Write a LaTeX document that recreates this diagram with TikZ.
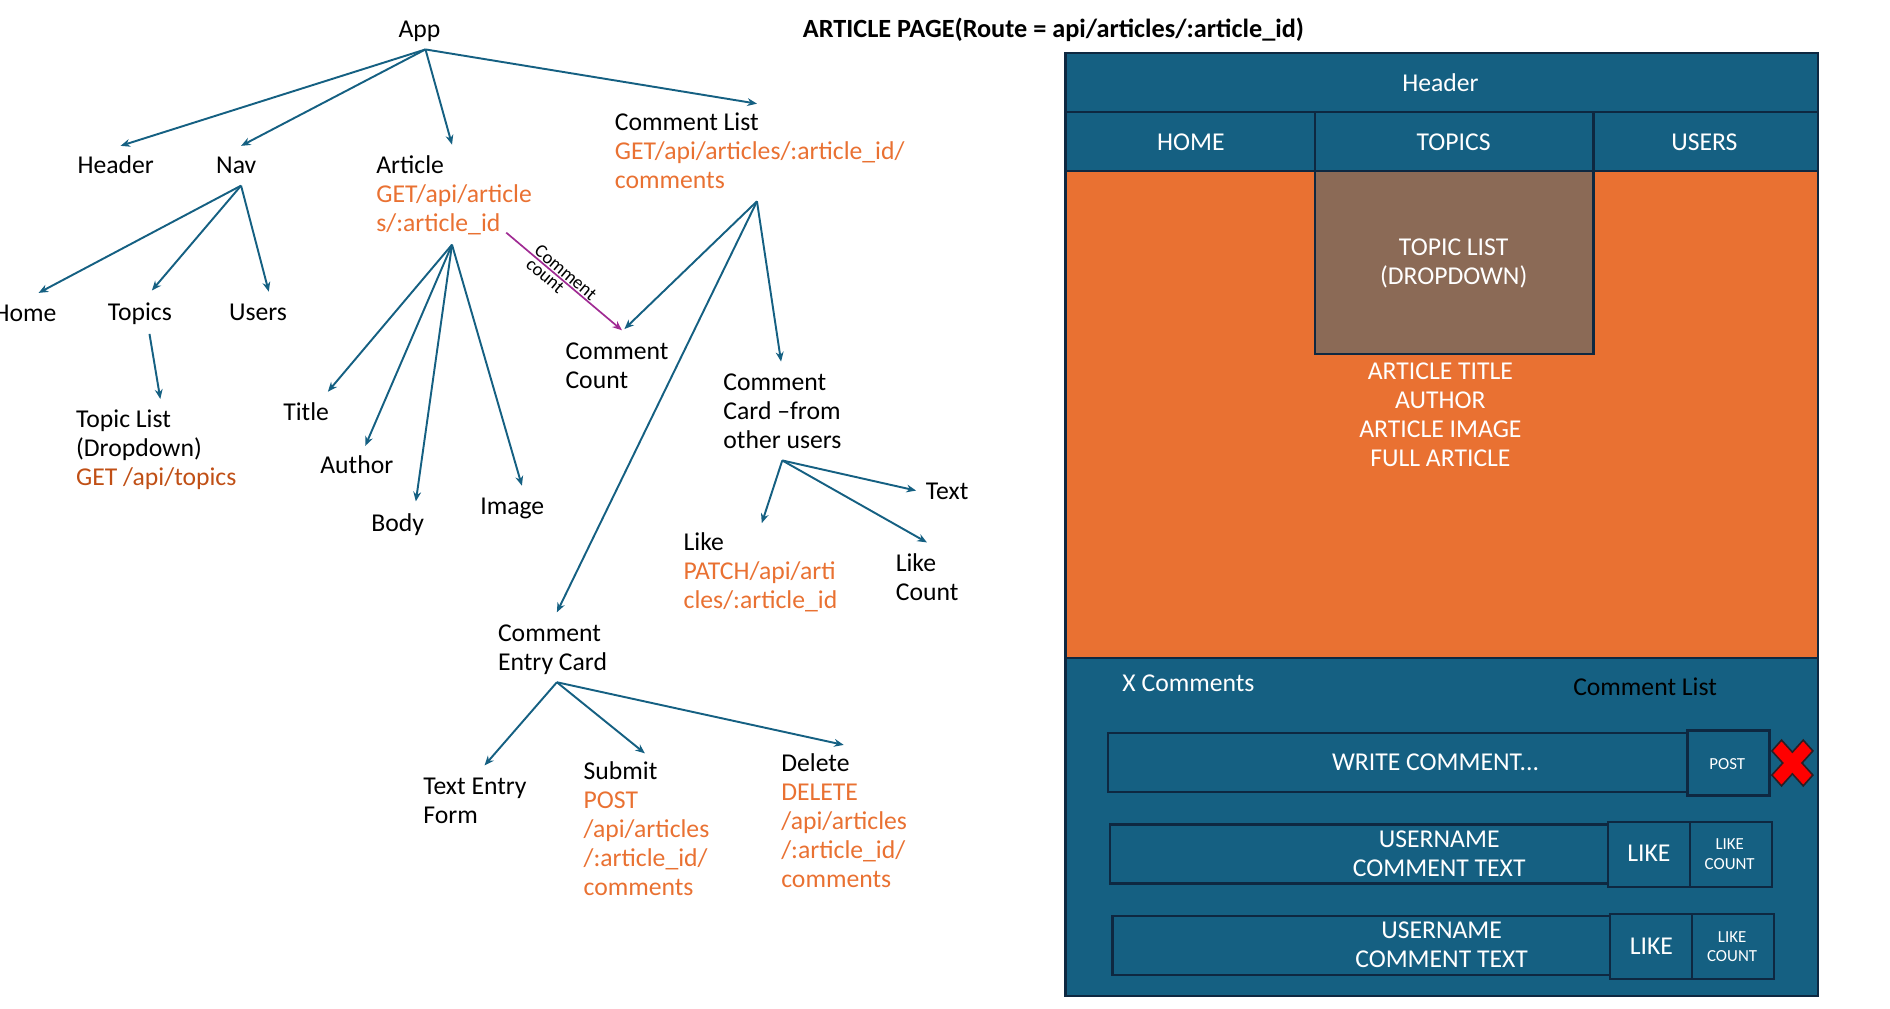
\documentclass[tikz,border=0pt]{standalone}
\usepackage{fontspec}
\setmainfont{Carlito}
\usetikzlibrary{arrows.meta}
\definecolor{acc}{HTML}{156082}
\definecolor{bdr}{HTML}{0E2841}
\definecolor{orng}{HTML}{E97132}
\definecolor{dorng}{HTML}{C04F15}
\definecolor{brwn}{HTML}{8B6A56}
\definecolor{purp}{HTML}{A02B93}
\definecolor{xred}{HTML}{FF0000}
\definecolor{xbdr}{HTML}{2A1E24}
\begin{document}
\begin{tikzpicture}[x=1pt,y=-1pt,
  lbl/.style={font=\fontsize{21.3}{24}\selectfont, inner sep=0pt, anchor=base west},
  clbl/.style={lbl, anchor=base},
  api/.style={lbl, text=orng},
  arr/.style={draw=acc, line width=1.6pt, -{Stealth[length=8pt,width=6.5pt]}},
  parr/.style={draw=purp, line width=1.4pt, -{Stealth[length=8pt,width=6.5pt]}},
  plbl/.style={font=\fontsize{15.5}{16}\selectfont, inner sep=0.8pt, sloped},
  ptxt/.style={font=\fontsize{21.3}{24}\selectfont, inner sep=0pt, anchor=base, text=white},
  stxt/.style={font=\fontsize{14}{16}\selectfont, inner sep=0pt, anchor=base, text=white},
  cell/.style={draw=bdr, line width=1.8pt, fill=acc},
]
\useasboundingbox (0,0) rectangle (1568,836.3);

% ---------------- title ----------------
\node[clbl, font=\fontsize{21.8}{24}\selectfont\bfseries] (title) at (874,31) {ARTICLE PAGE(Route = api/articles/:article\_id)};

% ---------------- tree labels ----------------
\node[clbl] (app) at (348,31) {App};
\node[clbl] (theader) at (96,144) {Header};
\node[clbl] (nav) at (196,144) {Nav};
\node[lbl] (art1) at (312,144) {Article};
\node[api] (art2) at (312,168) {GET/api/article};
\node[api] (art3) at (312,192) {s/:article\_id};
\node[lbl] (cl1) at (510,108) {Comment List};
\node[api] (cl2) at (510,132) {GET/api/articles/:article\_id/};
\node[api] (cl3) at (510,156) {comments};
\node[lbl, anchor=base east] (home) at (47,267) {Home};
\node[clbl] (topics) at (116,266) {Topics};
\node[clbl] (users) at (214,266) {Users};
\node[lbl] (tl1) at (63,355) {Topic List};
\node[lbl] (tl2) at (63,379) {(Dropdown)};
\node[lbl, text=dorng] (tl3) at (63,403) {GET /api/topics};
\node[clbl] (ttitle) at (254,349) {Title};
\node[clbl] (author) at (296,393) {Author};
\node[clbl] (body) at (330,441) {Body};
\node[clbl] (image) at (425,427) {Image};
\node[lbl] (cc1) at (469,298) {Comment};
\node[lbl] (cc2) at (469,322) {Count};
\node[lbl] (cd1) at (600,324) {Comment};
\node[lbl] (cd2) at (600,348) {Card –from};
\node[lbl] (cd3) at (600,372) {other users};
\node[lbl] (text) at (768,414) {Text};
\node[lbl] (like1) at (567,457) {Like};
\node[api] (like2) at (567,481) {PATCH/api/arti};
\node[api] (like3) at (567,505) {cles/:article\_id};
\node[lbl] (lc1) at (743,474) {Like};
\node[lbl] (lc2) at (743,498) {Count};
\node[lbl] (ec1) at (413,532) {Comment};
\node[lbl] (ec2) at (413,556) {Entry Card};
\node[lbl] (tef1) at (351,659) {Text Entry};
\node[lbl] (tef2) at (351,683) {Form};
\node[lbl] (sub1) at (484,647) {Submit};
\node[api] (sub2) at (484,671) {POST};
\node[api] (sub3) at (484,695) {/api/articles};
\node[api] (sub4) at (484,719) {/:article\_id/};
\node[api] (sub5) at (484,743) {comments};
\node[lbl] (del1) at (648,640) {Delete};
\node[api] (del2) at (648,664) {DELETE};
\node[api] (del3) at (648,688) {/api/articles};
\node[api] (del4) at (648,712) {/:article\_id/};
\node[api] (del5) at (648,736) {comments};

% ---------------- connector points ----------------
\coordinate (appB) at (353,41);
\coordinate (hdrT) at (100,121);
\coordinate (navT) at (200,121);
\coordinate (artT) at (375,120);
\coordinate (clT) at (628,86);
\coordinate (navB) at (200,154);
\coordinate (homeT) at (32,243);
\coordinate (topT) at (126,241);
\coordinate (usrT) at (223,242);
\coordinate (topB) at (124,277);
\coordinate (tlT) at (133,331);
\coordinate (artB) at (375,203);
\coordinate (titT) at (272,325);
\coordinate (autT) at (303,370);
\coordinate (bodT) at (345,416);
\coordinate (imgT) at (433,403);
\coordinate (artR) at (420,193);
\coordinate (ccT) at (516,274);
\coordinate (ccT2) at (518,273);
\coordinate (clB) at (628,167);
\coordinate (cdT) at (648,300);
\coordinate (ecT) at (462,508);
\coordinate (cdB) at (649,382);
\coordinate (likeT) at (632,434);
\coordinate (lcT) at (769,450);
\coordinate (textL) at (760,407);
\coordinate (ecB) at (462,566);
\coordinate (tefT) at (402,635);
\coordinate (subT) at (535,625);
\coordinate (delT) at (700,618);

% ---------------- connectors ----------------
\draw[arr] (appB) -- (hdrT);
\draw[arr] (appB) -- (navT);
\draw[arr] (appB) -- (artT);
\draw[arr] (appB) -- (clT);
\draw[arr] (navB) -- (homeT);
\draw[arr] (navB) -- (topT);
\draw[arr] (navB) -- (usrT);
\draw[arr] (topB) -- (tlT);
\draw[arr] (artB) -- (titT);
\draw[arr] (artB) -- (autT);
\draw[arr] (artB) -- (bodT);
\draw[arr] (artB) -- (imgT);
\draw[arr] (clB) -- (ccT2);
\draw[arr] (clB) -- (cdT);
\draw[arr] (clB) -- (ecT);
\draw[arr] (cdB) -- (likeT);
\draw[arr] (cdB) -- (lcT);
\draw[arr] (cdB) -- (textL);
\draw[arr] (ecB) -- (tefT);
\draw[arr] (ecB) -- (subT);
\draw[arr] (ecB) -- (delT);
\draw[parr] (artR) -- node[pos=0.47, plbl, above] (pl1) {Comment}
                      node[pos=0.38, plbl, below] (pl2) {count} (ccT);

% ---------------- page mock-up ----------------
\path[fill=acc] (884,44) rectangle (1508,826);
\path[fill=orng] (884,142) rectangle (1508,546);
\path[fill=brwn, draw=bdr, line width=1.8pt] (1091,142) rectangle (1322,294);
\draw[bdr, line width=1.8pt] (884,93) -- (1508,93);
\draw[bdr, line width=1.8pt] (884,142) -- (1508,142);
\draw[bdr, line width=1.8pt] (884,546) -- (1508,546);
\draw[bdr, line width=1.8pt] (1091,93) -- (1091,142);
\draw[bdr, line width=1.8pt] (1322,93) -- (1322,142);
\draw[bdr, line width=1.8pt] (884,44) rectangle (1508,826);

\node[ptxt] (pheader) at (1195,76) {Header};
\node[ptxt] (phome) at (988,125) {HOME};
\node[ptxt] (ptopics) at (1206,125) {TOPICS};
\node[ptxt] (pusers) at (1414,125) {USERS};
\node[ptxt] (ptl1) at (1206,212) {TOPIC LIST};
\node[ptxt] (ptl2) at (1206,236) {(DROPDOWN)};
\node[ptxt] (pa1) at (1195,315) {ARTICLE TITLE};
\node[ptxt] (pa2) at (1195,339) {AUTHOR};
\node[ptxt] (pa3) at (1195,363) {ARTICLE IMAGE};
\node[ptxt] (pa4) at (1195,387) {FULL ARTICLE};

\node[ptxt, anchor=base west] (pxc) at (931,574) {X Comments};
\node[ptxt, anchor=base west, text=black] (pcl) at (1305,577) {Comment List};

% write comment row
\path[cell] (919,608) rectangle (1400,657);
\path[cell] (1400,606) rectangle (1468,660);
\node[ptxt] (pwc) at (1191,639) {WRITE COMMENT...};
\node[stxt] (ppost) at (1433,638) {POST};

% red X
\path[fill=xred, draw=xbdr, line width=1.3pt, shift={(1487,633)}]
  (-17,-10) -- (-9,-19) -- (0,-9) -- (9,-19) -- (17,-10) -- (8,0) -- (17,10) -- (9,19) -- (0,9) -- (-9,19) -- (-17,10) -- (-8,0) -- cycle;

% comment row 1
\path[cell] (921,684) rectangle (1334,733);
\path[cell] (1334,682) rectangle (1402,736);
\path[cell] (1402,682) rectangle (1470,736);
\node[ptxt] (pu1) at (1194,703) {USERNAME};
\node[ptxt] (pt1) at (1194,727) {COMMENT TEXT};
\node[ptxt] (pl1b) at (1368,715) {LIKE};
\node[stxt] (plc1a) at (1435,705) {LIKE};
\node[stxt] (plc1b) at (1435,721) {COUNT};

% comment row 2
\path[cell] (923,760) rectangle (1336,809);
\path[cell] (1336,758) rectangle (1404,812);
\path[cell] (1404,758) rectangle (1472,812);
\node[ptxt] (pu2) at (1196,779) {USERNAME};
\node[ptxt] (pt2) at (1196,803) {COMMENT TEXT};
\node[ptxt] (pl2b) at (1370,792) {LIKE};
\node[stxt] (plc2a) at (1437,782) {LIKE};
\node[stxt] (plc2b) at (1437,798) {COUNT};
\end{tikzpicture}
\end{document}
